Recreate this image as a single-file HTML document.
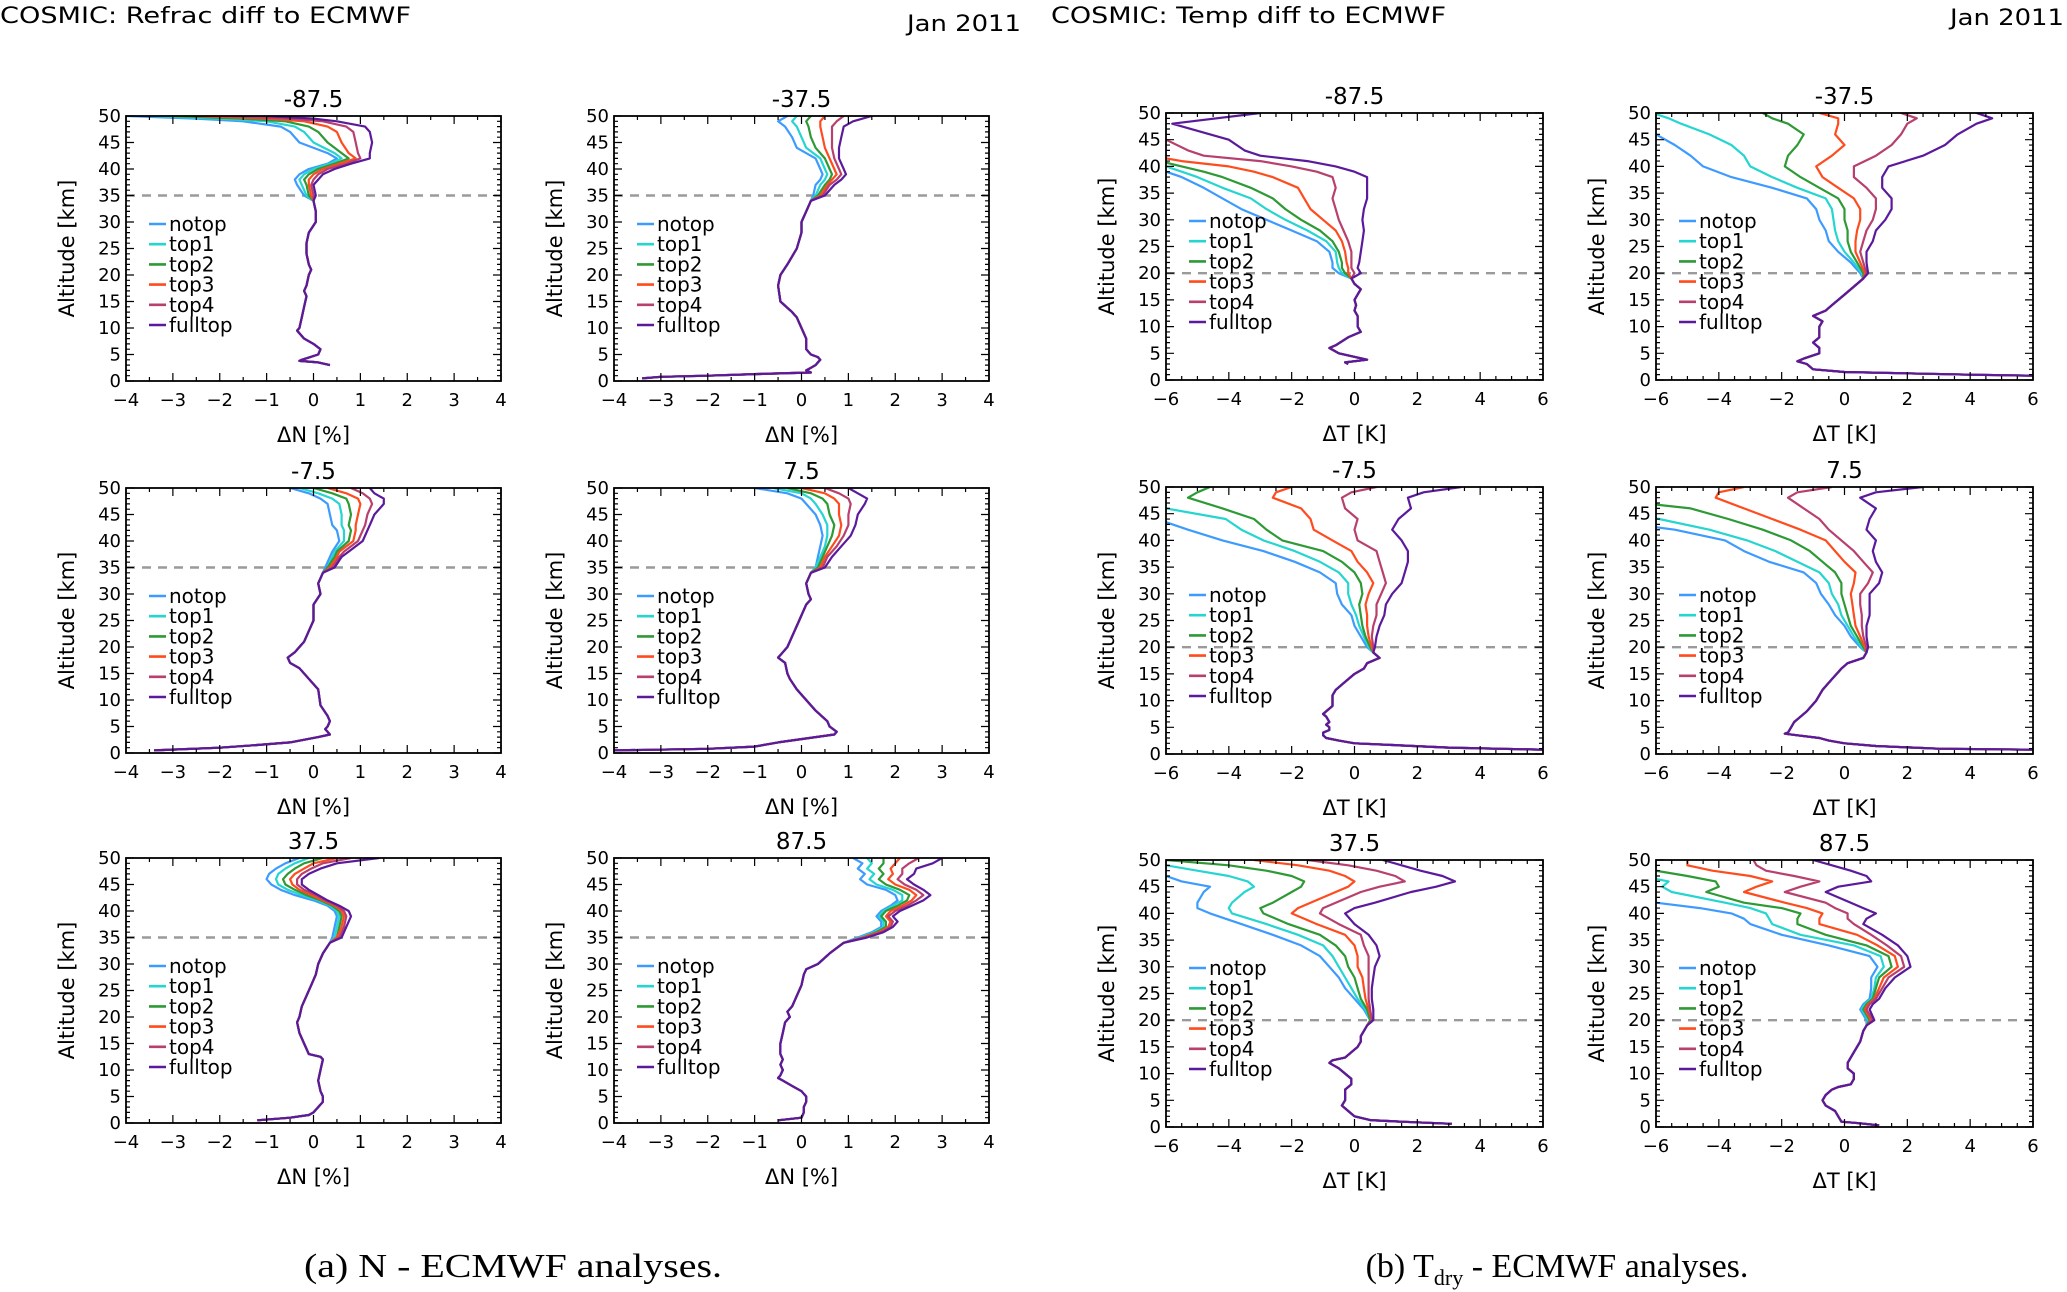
<!DOCTYPE html>
<html><head><meta charset="utf-8"><style>
html,body{margin:0;padding:0;background:#fff;}
svg{display:block;font-family:"DejaVu Sans","Liberation Sans",sans-serif;}
</style></head><body>
<svg id="fig" xmlns="http://www.w3.org/2000/svg" width="2067" height="1292" viewBox="0 0 2067 1292">
<text x="0" y="23" font-size="22" textLength="411" lengthAdjust="spacingAndGlyphs">COSMIC: Refrac diff to ECMWF</text>
<text x="1021" y="31" font-size="22" text-anchor="end" textLength="114" lengthAdjust="spacingAndGlyphs">Jan 2011</text>
<text x="1051" y="23" font-size="22" textLength="395" lengthAdjust="spacingAndGlyphs">COSMIC: Temp diff to ECMWF</text>
<text x="2064" y="25" font-size="22" text-anchor="end" textLength="114" lengthAdjust="spacingAndGlyphs">Jan 2011</text>
<text x="513" y="1277" font-family="Liberation Serif, serif" font-size="34" text-anchor="middle" textLength="418" lengthAdjust="spacingAndGlyphs">(a) N - ECMWF analyses.</text>
<text x="1557" y="1277" font-family="Liberation Serif, serif" font-size="34" text-anchor="middle">(b) T<tspan font-size="22" dy="8">dry</tspan><tspan dy="-8"> - ECMWF analyses.</tspan></text>
</svg>
<script>
const seriesNames=['notop','top1','top2','top3','top4','fulltop'];
const seriesColors=['#3d9bff','#25d5d0','#2d9a35','#ff4c1f','#b8406e','#5b1a9c'];

// Panel A1 (-87.5, refractivity)
const a1LowAlt=[3,3.5,3.8,4,5,6,7,8,9.5,10,12,14,16,17,18,20,21,22,24,26,28,30,32,34];
const a1LowVal=[0.35,0.1,-0.3,-0.25,0.1,0.15,0,-0.2,-0.35,-0.3,-0.25,-0.2,-0.15,-0.2,-0.15,-0.1,-0.05,-0.1,-0.15,-0.15,-0.1,0.05,0.05,0];
const a1UpAlt=[35,37,38,39,40,41,42,43,45,47,48,49,49.5,50];
const a1Notop=[-0.2,-0.35,-0.4,-0.3,-0.1,0.3,0.5,0.3,-0.3,-0.5,-0.7,-1.5,-2.5,-4];
const a1Top1=[-0.15,-0.25,-0.3,-0.2,0,0.35,0.6,0.45,0,-0.2,-0.4,-1,-2,-3.5];
const a1Top2=[-0.1,-0.15,-0.2,-0.1,0.1,0.45,0.75,0.6,0.3,0.1,-0.1,-0.6,-1.5,-3];
const a1Top3=[-0.05,-0.1,-0.1,0,0.2,0.55,0.9,0.75,0.6,0.5,0.3,-0.2,-1,-2.5];
const a1Top4=[0,-0.05,0,0.1,0.3,0.7,1.0,0.95,0.9,0.85,0.7,0.2,-0.5,-2];
const a1Full=[0.05,0,0.1,0.2,0.45,0.8,1.2,1.2,1.25,1.2,1.1,0.5,0,-1];

// Panel A2 (-37.5)
const a2LowAlt=[0.5,0.8,1,1.3,1.6,2,2.5,3,3.5,4,4.5,5,6,8,10,12,13,15,18,20,22,25,28,30,32,34];
const a2LowVal=[-3.4,-3,-2,-1,0.2,0.1,0.2,0.3,0.35,0.4,0.35,0.2,0.1,0.1,0,-0.1,-0.2,-0.45,-0.5,-0.45,-0.3,-0.1,0,0,0.1,0.2];
const a2UpAlt=[35,37,38,39,40,42,44,46,48,49,50];
const a2Notop=[0.25,0.3,0.4,0.45,0.4,0.3,-0.1,-0.2,-0.35,-0.5,-0.3];
const a2Top1=[0.3,0.4,0.5,0.55,0.5,0.4,0.1,0.0,-0.1,-0.2,-0.1];
const a2Top2=[0.35,0.5,0.6,0.65,0.6,0.5,0.3,0.2,0.15,0.1,0.2];
const a2Top3=[0.4,0.55,0.65,0.75,0.7,0.6,0.5,0.45,0.4,0.4,0.5];
const a2Top4=[0.45,0.6,0.75,0.85,0.8,0.7,0.65,0.65,0.65,0.75,0.9];
const a2Full=[0.5,0.7,0.85,0.95,0.9,0.8,0.8,0.85,0.9,1.1,1.5];

// Panel A3 (-7.5)
const a3LowAlt=[0.5,1,1.5,2,3,3.5,4,4.5,5,6,7,9,12,14,16,17,18,19,20,21,23,25,28,30,32,34];
const a3LowVal=[-3.4,-2,-1.2,-0.5,0.1,0.35,0.3,0.25,0.3,0.35,0.3,0.15,0.1,-0.1,-0.3,-0.5,-0.55,-0.4,-0.3,-0.2,-0.1,0,0,0.15,0.1,0.2];
const a3UpAlt=[35,37,38,40,42,43,45,47,48,49,50];
const a3Notop=[0.25,0.35,0.4,0.55,0.5,0.4,0.35,0.3,0.15,-0.1,-0.5];
const a3Top1=[0.3,0.4,0.45,0.65,0.65,0.6,0.6,0.55,0.4,0.1,-0.3];
const a3Top2=[0.3,0.45,0.5,0.75,0.8,0.75,0.8,0.75,0.7,0.4,0];
const a3Top3=[0.35,0.5,0.55,0.85,0.9,0.9,0.95,1.0,0.95,0.7,0.3];
const a3Top4=[0.4,0.55,0.65,0.95,1.05,1.1,1.15,1.25,1.2,1.05,0.8];
const a3Full=[0.45,0.6,0.75,1.05,1.15,1.2,1.3,1.5,1.5,1.3,1.2];

// Panel A4 (7.5)
const a4LowAlt=[0.5,0.8,1.2,2,3,3.5,4,5,6,8,10,12,14,15,17,18,19,20,22,25,28,29,30,32,34];
const a4LowVal=[-4,-2,-1,-0.5,0.3,0.7,0.75,0.6,0.55,0.3,0.1,-0.1,-0.25,-0.3,-0.35,-0.5,-0.4,-0.3,-0.2,-0.05,0.1,0.2,0.15,0.1,0.2];
const a4UpAlt=[35,37,39,41,43,45,47,48,49,50];
const a4Notop=[0.3,0.35,0.4,0.45,0.4,0.3,0.1,0,-0.3,-1];
const a4Top1=[0.3,0.4,0.5,0.55,0.55,0.45,0.3,0.2,0,-0.6];
const a4Top2=[0.35,0.45,0.55,0.65,0.7,0.6,0.55,0.45,0.2,-0.3];
const a4Top3=[0.4,0.5,0.65,0.8,0.85,0.8,0.8,0.7,0.5,0];
const a4Top4=[0.45,0.55,0.75,0.9,1.0,1.0,1.05,1.0,0.8,0.5];
const a4Full=[0.5,0.65,0.85,1.05,1.15,1.2,1.35,1.4,1.2,1];

// Panel A5 (37.5)
const a5LowAlt=[0.5,1,1.5,2,3,4,5,6,8,10,12,12.5,13,15,17,19,20,22,24,26,28,30,32,34];
const a5LowVal=[-1.2,-0.5,-0.1,0,0.1,0.2,0.2,0.15,0.1,0.15,0.2,0.15,-0.1,-0.2,-0.3,-0.35,-0.3,-0.25,-0.15,-0.05,0.05,0.1,0.2,0.35];
const a5UpAlt=[35,37,39,40,41,42,43,44,45,46,47,48,49,50];
const a5Notop=[0.4,0.45,0.5,0.45,0.3,0.0,-0.4,-0.7,-0.9,-1.0,-0.95,-0.8,-0.6,-0.3];
const a5Top1=[0.45,0.5,0.55,0.5,0.35,0.1,-0.25,-0.55,-0.75,-0.8,-0.75,-0.6,-0.4,-0.1];
const a5Top2=[0.5,0.55,0.6,0.55,0.4,0.15,-0.15,-0.4,-0.6,-0.65,-0.55,-0.4,-0.2,0.2];
const a5Top3=[0.5,0.6,0.65,0.6,0.45,0.2,-0.05,-0.3,-0.45,-0.5,-0.4,-0.2,0,0.5];
const a5Top4=[0.55,0.65,0.7,0.65,0.5,0.25,0.05,-0.2,-0.35,-0.35,-0.25,-0.05,0.2,0.8];
const a5Full=[0.6,0.7,0.8,0.75,0.55,0.3,0.1,-0.1,-0.25,-0.25,-0.1,0.15,0.5,1.4];

// Panel A6 (87.5)
const a6LowAlt=[0.5,1,2,3,4,5,6,7,8,8.5,9,10,11,12,13,15,17,19,20,21,22,24,26,28,29,30,32,34];
const a6LowVal=[-0.5,0,0.05,0.05,0.1,0.1,0,-0.2,-0.4,-0.5,-0.45,-0.4,-0.45,-0.4,-0.45,-0.45,-0.4,-0.35,-0.25,-0.3,-0.2,-0.1,0,0.05,0.1,0.35,0.6,0.9];
const a6UpAlt=[35,36,37,38,39,40,41,42,43,44,45,46,47,48,49,50];
const a6Notop=[1.2,1.5,1.7,1.7,1.6,1.7,1.9,2.05,2.0,1.8,1.4,1.25,1.35,1.2,1.3,1.1];
const a6Top1=[1.25,1.55,1.75,1.75,1.65,1.75,1.95,2.15,2.15,1.95,1.6,1.45,1.55,1.4,1.5,1.4];
const a6Top2=[1.3,1.6,1.8,1.8,1.7,1.8,2.05,2.25,2.3,2.1,1.8,1.65,1.75,1.65,1.75,1.75];
const a6Top3=[1.3,1.65,1.85,1.9,1.8,1.9,2.15,2.35,2.45,2.3,2.0,1.85,1.95,1.9,2.0,2.1];
const a6Top4=[1.35,1.7,1.9,1.95,1.85,2.0,2.25,2.45,2.6,2.45,2.2,2.05,2.15,2.15,2.3,2.5];
const a6Full=[1.4,1.75,1.95,2.05,1.95,2.1,2.35,2.6,2.75,2.6,2.4,2.25,2.4,2.45,2.8,3.0];

// Panel B1 (-87.5, temperature)
const b1LowAlt=[3,3.3,3.8,4.2,5,6,6.5,8,9,10,11,12,13,14,15,16,17,18,19];
const b1LowVal=[-0.2,-0.3,0.4,0.1,-0.5,-0.8,-0.6,-0.2,0.2,0.1,0.1,0.1,0.0,0.05,0.0,0.1,0.2,0,-0.1];
const b1UpAlt=[20,21,22,24,26,28,30,32,34,36,38,39,40,41,42,43,45,48,50];
const b1Notop=[-0.5,-0.7,-0.7,-0.8,-1.2,-2,-2.8,-3.6,-4.2,-4.8,-5.5,-6,-7,-8,-8,-8,-8,-8,-8];
const b1Top1=[-0.4,-0.5,-0.55,-0.6,-0.9,-1.5,-2.2,-2.8,-3.3,-4.2,-5,-5.5,-6,-7,-8,-8,-8,-8,-8];
const b1Top2=[-0.3,-0.4,-0.4,-0.5,-0.7,-1.1,-1.7,-2.2,-2.6,-3.3,-4.2,-4.8,-5.5,-6.2,-8,-8,-8,-8,-8];
const b1Top3=[-0.2,-0.2,-0.25,-0.3,-0.4,-0.6,-1.0,-1.4,-1.6,-1.8,-2.6,-3.2,-4,-5.5,-6.5,-8,-8,-8,-8];
const b1Top4=[0,-0.1,-0.1,-0.1,-0.2,-0.35,-0.5,-0.6,-0.7,-0.6,-0.7,-1.2,-2,-3,-4.8,-5.3,-6,-8,-8];
const b1Full=[0.2,0.1,0.15,0.2,0.25,0.3,0.25,0.3,0.4,0.4,0.4,0,-0.6,-1.5,-3,-3.5,-4,-5.8,-3];

// Panel B2 (-37.5)
const b2LowAlt=[0.8,1,1.5,2,3,3.5,4,5,6,7,8,10,11,12,13,14,16,18,19];
const b2LowVal=[6,4,0,-1,-1.2,-1.5,-1.3,-0.8,-0.8,-1,-0.8,-0.8,-0.7,-1,-0.6,-0.4,0,0.4,0.6];
const b2UpAlt=[20,22,24,26,28,30,32,34,36,38,40,42,44,46,48,49,50];
const b2Notop=[0.5,0.2,-0.2,-0.5,-0.6,-0.8,-0.9,-1.2,-2.3,-3.6,-4.5,-4.9,-5.4,-6.0,-8,-8,-8];
const b2Top1=[0.55,0.3,0,-0.2,-0.3,-0.35,-0.4,-0.6,-1.5,-2.3,-3.0,-3.2,-3.6,-4.3,-5.2,-5.6,-6.1];
const b2Top2=[0.6,0.4,0.2,0.1,0.1,0.0,0.0,-0.2,-0.8,-1.4,-1.9,-1.8,-1.5,-1.3,-1.8,-2.3,-2.6];
const b2Top3=[0.65,0.5,0.35,0.35,0.4,0.5,0.5,0.3,-0.2,-0.7,-0.9,-0.4,0,-0.3,-0.2,-0.2,-0.8];
const b2Top4=[0.7,0.6,0.5,0.6,0.7,0.9,1.0,1.0,0.7,0.3,0.3,1.0,1.5,1.8,2.0,2.3,1.8];
const b2Full=[0.75,0.7,0.7,0.9,1.0,1.3,1.5,1.5,1.2,1.2,1.4,2.5,3.2,3.6,4.2,4.7,4.2];

// Panel B3 (-7.5)
const b3LowAlt=[0.8,1.2,2,2.5,3,3.5,4,4.5,5,5.5,6,7,7.5,9,11,12,13,15,16,17,18,19];
const b3LowVal=[6,3,0,-0.5,-0.9,-1.0,-1.0,-0.8,-0.8,-0.9,-0.8,-0.9,-1.0,-0.7,-0.7,-0.6,-0.4,0,0.3,0.4,0.8,0.6];
const b3UpAlt=[20,22,24,26,28,30,32,34,36,38,40,42,44,46,48,49,50];
const b3Notop=[0.4,0.2,0,-0.1,-0.4,-0.55,-0.6,-1.1,-1.9,-2.9,-4.2,-5.3,-6.3,-8,-8,-8,-8];
const b3Top1=[0.45,0.3,0.15,0.05,-0.1,-0.2,-0.2,-0.5,-1.1,-1.9,-2.9,-3.6,-4.1,-6,-8,-8,-8];
const b3Top2=[0.5,0.35,0.25,0.2,0.15,0.25,0.2,0.0,-0.4,-1.0,-2.3,-2.8,-3.2,-4.2,-5.3,-5.0,-4.6];
const b3Top3=[0.55,0.45,0.4,0.4,0.35,0.45,0.6,0.4,0.1,-0.1,-0.7,-1.3,-1.4,-1.7,-2.6,-2.5,-2.0];
const b3Top4=[0.6,0.55,0.6,0.7,0.7,0.85,1.0,0.9,0.8,0.7,0.1,0,0.1,-0.3,-0.4,-0.1,0.7];
const b3Full=[0.65,0.7,0.8,0.95,1.0,1.2,1.5,1.6,1.7,1.7,1.5,1.2,1.4,1.8,1.7,2.2,3.4];

// Panel B4 (7.5)
const b4LowAlt=[0.8,1,1.5,2,2.5,3,3.5,3.8,4,5,6,6.5,8,10,12,14,16,17,18,19];
const b4LowVal=[6,3,1,0,-0.5,-0.8,-1.5,-1.9,-1.8,-1.7,-1.6,-1.5,-1.2,-0.9,-0.7,-0.4,-0.1,0.1,0.6,0.7];
const b4UpAlt=[20,22,24,26,28,30,32,34,36,38,40,42,44,46,48,49,50];
const b4Notop=[0.5,0.2,0,-0.3,-0.5,-0.75,-0.9,-1.3,-2.4,-3.2,-3.8,-5.4,-8,-8,-8,-8,-8];
const b4Top1=[0.55,0.3,0.1,-0.1,-0.2,-0.4,-0.5,-0.8,-1.5,-2.2,-3.1,-4.3,-5.9,-8,-8,-8,-8];
const b4Top2=[0.6,0.4,0.2,0.1,0.0,-0.1,-0.1,-0.3,-0.7,-1.1,-1.7,-2.6,-3.7,-4.9,-8,-8,-8];
const b4Top3=[0.65,0.5,0.35,0.3,0.25,0.2,0.3,0.35,0.0,-0.3,-0.6,-1.4,-2.3,-3.2,-4.1,-4.0,-3.2];
const b4Top4=[0.7,0.6,0.55,0.55,0.5,0.5,0.75,0.9,0.6,0.3,-0.1,-0.5,-0.8,-1.3,-1.8,-1.5,-0.4];
const b4Full=[0.75,0.7,0.7,0.8,0.8,0.8,1.1,1.2,1.0,0.9,1.0,0.7,0.8,1.0,0.5,1.0,2.5];

// Panel B5 (37.5)
const b5LowAlt=[0.6,1,1.3,2,3,4,5,7,8,9,10,11,12,12.5,13,14,15,16,17,18,19];
const b5LowVal=[3.1,1.5,0.5,0,-0.2,-0.4,-0.3,-0.3,-0.1,-0.1,-0.3,-0.5,-0.8,-0.7,-0.3,-0.1,0.1,0.2,0.2,0.3,0.4];
const b5UpAlt=[20,22,24,26,28,30,32,34,36,38,40,41,42,44,45,46,47,48,49,50];
const b5Notop=[0.5,0.3,0,-0.3,-0.5,-0.8,-1.1,-1.7,-2.6,-3.6,-4.6,-5.0,-5.0,-4.8,-4.6,-5.5,-6,-8,-8,-8];
const b5Top1=[0.5,0.35,0.1,-0.1,-0.3,-0.5,-0.7,-1.0,-1.8,-2.8,-3.9,-4.0,-3.9,-3.5,-3.2,-3.4,-4,-5,-6,-8];
const b5Top2=[0.5,0.4,0.2,0.1,0.0,-0.2,-0.3,-0.6,-1.1,-2.1,-2.9,-3.0,-2.6,-2.0,-1.7,-1.6,-2.0,-2.8,-4,-6];
const b5Top3=[0.55,0.45,0.35,0.3,0.25,0.1,0.1,0.0,-0.3,-1.2,-2.0,-1.8,-1.4,-0.6,-0.2,0.0,-0.3,-0.8,-1.8,-3.2];
const b5Top4=[0.55,0.5,0.45,0.45,0.45,0.45,0.45,0.3,0.2,-0.5,-1.1,-1.0,-0.6,0.2,0.8,1.6,1.3,0.7,-0.2,-1.5];
const b5Full=[0.6,0.6,0.55,0.55,0.6,0.65,0.8,0.7,0.45,0.0,-0.3,0.0,0.65,1.8,2.6,3.2,2.8,2.1,1.5,0.9];

// Panel B6 (87.5)
const b6LowAlt=[0.3,0.7,1,2,3,4,5,6,7,7.5,8,9,10,11,12,14,16,18,19];
const b6LowVal=[1.1,0.5,-0.1,-0.2,-0.3,-0.6,-0.7,-0.6,-0.4,-0.2,0.2,0.3,0.3,0.1,0.1,0.3,0.5,0.6,0.7];
const b6UpAlt=[20,22,23,24,26,28,30,32,34,36,38,39,40,41,42,44,45,46,47,48,49,50];
const b6Notop=[0.7,0.5,0.6,0.8,0.85,0.85,1.05,0.8,-0.5,-2.0,-3.0,-3.2,-3.6,-4.6,-6,-8,-8,-8,-8,-8,-8,-8];
const b6Top1=[0.75,0.55,0.65,0.85,0.95,1.0,1.25,1.15,0.3,-1.4,-2.3,-2.4,-2.5,-3.0,-3.8,-5.5,-5.8,-5.6,-6.5,-8,-8,-8];
const b6Top2=[0.8,0.6,0.7,0.9,1.0,1.1,1.5,1.4,0.7,-0.6,-1.5,-1.5,-1.4,-2.0,-3.2,-4.4,-4.0,-4.1,-5.0,-6,-8,-8];
const b6Top3=[0.85,0.65,0.75,0.95,1.1,1.25,1.7,1.6,1.05,0.4,-0.8,-0.8,-0.7,-1.2,-1.9,-3.2,-2.8,-2.3,-3.0,-4.2,-5,-5];
const b6Top4=[0.9,0.7,0.8,1.0,1.2,1.4,1.9,1.8,1.35,0.85,0.3,0.1,0.1,-0.3,-0.6,-1.9,-1.4,-0.8,-1.6,-2.5,-2.8,-2.9];
const b6Full=[0.95,0.8,0.9,1.1,1.3,1.6,2.1,2.0,1.7,1.2,0.6,0.7,1.0,0.6,0.2,-0.6,-0.2,0.85,0.7,0.2,-0.4,-1.0];

const nTicks=[-4,-3,-2,-1,0,1,2,3,4];
const tTicks=[-6,-4,-2,0,2,4,6];
const altTicks=[0,5,10,15,20,25,30,35,40,45,50];

const NS='http://www.w3.org/2000/svg';
const svg=document.getElementById('fig');
function el(tag,attrs,parent){const e=document.createElementNS(NS,tag);for(const k in attrs)e.setAttribute(k,attrs[k]);(parent||svg).appendChild(e);return e;}

const panels=[
 {key:'a1',title:'-87.5',kind:'N',x:126,y:116,w:375,h:265,low:[a1LowAlt,a1LowVal],up:a1UpAlt,s:[a1Notop,a1Top1,a1Top2,a1Top3,a1Top4,a1Full]},
 {key:'a2',title:'-37.5',kind:'N',x:614,y:116,w:375,h:265,low:[a2LowAlt,a2LowVal],up:a2UpAlt,s:[a2Notop,a2Top1,a2Top2,a2Top3,a2Top4,a2Full]},
 {key:'a3',title:'-7.5',kind:'N',x:126,y:488,w:375,h:265,low:[a3LowAlt,a3LowVal],up:a3UpAlt,s:[a3Notop,a3Top1,a3Top2,a3Top3,a3Top4,a3Full]},
 {key:'a4',title:'7.5',kind:'N',x:614,y:488,w:375,h:265,low:[a4LowAlt,a4LowVal],up:a4UpAlt,s:[a4Notop,a4Top1,a4Top2,a4Top3,a4Top4,a4Full]},
 {key:'a5',title:'37.5',kind:'N',x:126,y:858,w:375,h:265,low:[a5LowAlt,a5LowVal],up:a5UpAlt,s:[a5Notop,a5Top1,a5Top2,a5Top3,a5Top4,a5Full]},
 {key:'a6',title:'87.5',kind:'N',x:614,y:858,w:375,h:265,low:[a6LowAlt,a6LowVal],up:a6UpAlt,s:[a6Notop,a6Top1,a6Top2,a6Top3,a6Top4,a6Full]},
 {key:'b1',title:'-87.5',kind:'T',x:1166,y:113,w:377,h:267,low:[b1LowAlt,b1LowVal],up:b1UpAlt,s:[b1Notop,b1Top1,b1Top2,b1Top3,b1Top4,b1Full]},
 {key:'b2',title:'-37.5',kind:'T',x:1656,y:113,w:377,h:267,low:[b2LowAlt,b2LowVal],up:b2UpAlt,s:[b2Notop,b2Top1,b2Top2,b2Top3,b2Top4,b2Full]},
 {key:'b3',title:'-7.5',kind:'T',x:1166,y:487,w:377,h:267,low:[b3LowAlt,b3LowVal],up:b3UpAlt,s:[b3Notop,b3Top1,b3Top2,b3Top3,b3Top4,b3Full]},
 {key:'b4',title:'7.5',kind:'T',x:1656,y:487,w:377,h:267,low:[b4LowAlt,b4LowVal],up:b4UpAlt,s:[b4Notop,b4Top1,b4Top2,b4Top3,b4Top4,b4Full]},
 {key:'b5',title:'37.5',kind:'T',x:1166,y:860,w:377,h:267,low:[b5LowAlt,b5LowVal],up:b5UpAlt,s:[b5Notop,b5Top1,b5Top2,b5Top3,b5Top4,b5Full]},
 {key:'b6',title:'87.5',kind:'T',x:1656,y:860,w:377,h:267,low:[b6LowAlt,b6LowVal],up:b6UpAlt,s:[b6Notop,b6Top1,b6Top2,b6Top3,b6Top4,b6Full]}
];

panels.forEach(p=>{
  const isN=p.kind==='N';
  const xmin=isN?-4:-6, xmax=isN?4:6;
  const xs=v=>p.x+(v-xmin)/(xmax-xmin)*p.w;
  const ys=a=>p.y+p.h-a/50*p.h;
  const g=el('g',{});
  
  
  const cp=el('clipPath',{id:'clip-'+p.key},g);
  el('rect',{x:p.x,y:p.y,width:p.w,height:p.h},cp);
  const t=el('text',{x:p.x+p.w/2,y:p.y-9,'font-size':23,'text-anchor':'middle'},g);
  
  
  t.textContent=p.title;
  const split=isN?35:20;
  const dl=el('line',{x1:p.x,x2:p.x+p.w,y1:ys(split),y2:ys(split),stroke:'#9a9a9a','stroke-width':2.4,'stroke-dasharray':'9,7'},g);
  
  
  const sg=el('g',{'clip-path':'url(#clip-'+p.key+')'},g);
  p.s.forEach((vals,i)=>{
    const pts=[];
    p.low[0].forEach((a,j)=>pts.push(xs(p.low[1][j]).toFixed(1)+','+ys(a).toFixed(1)));
    p.up.forEach((a,j)=>pts.push(xs(vals[j]).toFixed(1)+','+ys(a).toFixed(1)));
    const pl=el('polyline',{points:pts.join(' '),fill:'none',stroke:seriesColors[i],'stroke-width':2.2,'stroke-linejoin':'round'},sg);
    
    
  });
  const fr=el('rect',{x:p.x,y:p.y,width:p.w,height:p.h,fill:'none',stroke:'#000','stroke-width':1.8},g);
  
  
  let d='';
  for(let a=0;a<=50;a+=1){const y=ys(a);const L=(a%5===0)?8:4;d+=`M${p.x},${y}h${L}M${p.x+p.w},${y}h${-L}`;}
  for(let v=xmin;v<=xmax+1e-9;v+=0.5){const x=xs(v);const major=isN?Math.abs(v-Math.round(v))<1e-9:Math.abs(v/2-Math.round(v/2))<1e-9;const L=major?8:4;d+=`M${x},${p.y+p.h}v${-L}M${x},${p.y}v${L}`;}
  el('path',{d:d,stroke:'#000','stroke-width':1.2,fill:'none'},g);
  altTicks.forEach(a=>{
    const tl=el('text',{x:p.x-5,y:ys(a)+6,'font-size':18,'text-anchor':'end'},g);
    
    
    tl.textContent=a;
  });
  (isN?nTicks:tTicks).forEach(v=>{
    const tl=el('text',{x:xs(v),y:p.y+p.h+25,'font-size':18,'text-anchor':'middle'},g);
    
    
    tl.textContent=v<0?'\u2212'+Math.abs(v):String(v);
  });
  const xt=el('text',{x:p.x+p.w/2,y:p.y+p.h+61,'font-size':21,'text-anchor':'middle'},g);
  
  
  xt.textContent=isN?'\u0394N [%]':'\u0394T [K]';
  const cx=p.x-52, cy=p.y+p.h/2;
  const yt=el('text',{x:cx,y:cy,'font-size':21,'text-anchor':'middle',transform:`rotate(-90 ${cx} ${cy})`},g);
  
  
  yt.textContent='Altitude  [km]';
  const lg=el('g',{},g);
  
  
  seriesNames.forEach((n,i)=>{
    const ly=p.y+108+i*20.2;
    const ln=el('line',{x1:p.x+23,x2:p.x+40,y1:ly,y2:ly,stroke:seriesColors[i],'stroke-width':2.6},lg);
    
    
    const lt=el('text',{x:p.x+43,y:ly+7,'font-size':20},lg);
    
    
    lt.textContent=n;
  });
});
</script>
</body></html>
